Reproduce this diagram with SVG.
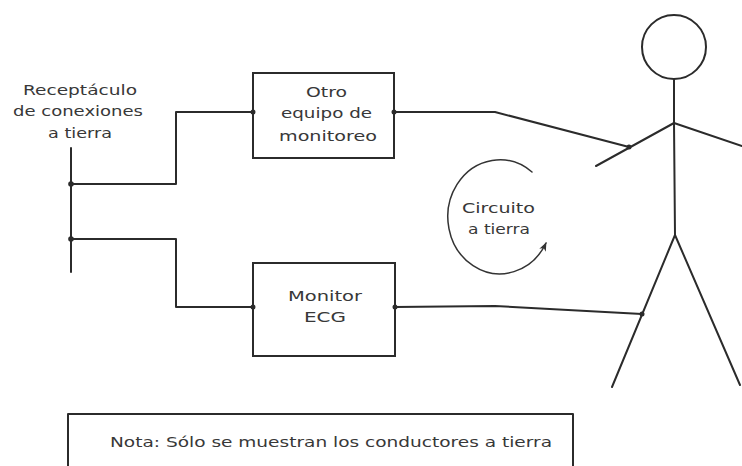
<svg xmlns="http://www.w3.org/2000/svg" width="742" height="466" viewBox="0 0 742 466">
<defs>
<style>
.ln{fill:none;stroke:#2b2b2b;stroke-width:2;stroke-linecap:round;stroke-linejoin:round}
.thin{fill:none;stroke:#333;stroke-width:1.5;stroke-linecap:round}
.box{fill:#fff;stroke:#2b2b2b;stroke-width:2}
.dot{fill:#2b2b2b}
.t{font-family:"DejaVu Sans","Liberation Sans",sans-serif;font-size:14px;fill:#383838}
</style>
<marker id="arr" viewBox="0 0 10 10" refX="9" refY="5" markerWidth="9" markerHeight="9" orient="auto" markerUnits="userSpaceOnUse">
<path d="M0,1 L10,5 L0,9 L3,5 Z" fill="#333"/>
</marker>
</defs>
<rect width="742" height="466" fill="#fff"/>

<g id="receptaculo">
<text class="t" x="23" y="95" textLength="114" lengthAdjust="spacingAndGlyphs">Receptáculo</text>
<text class="t" x="13" y="116" textLength="130" lengthAdjust="spacingAndGlyphs">de conexiones</text>
<text class="t" x="48" y="138" textLength="64" lengthAdjust="spacingAndGlyphs">a tierra</text>
<line class="ln" x1="71" y1="148" x2="71" y2="272"/>
</g>

<g id="connectors">
<polyline class="ln" points="71,184 176,184 176,112 253,112"/>
<polyline class="ln" points="71,239 176,239 176,307 253,307"/>
<polyline class="ln" points="394,112 495,112 629,147"/>
<polyline class="ln" points="395,307 495,306 642,314"/>
<circle class="dot" cx="71" cy="184" r="2.8"/>
<circle class="dot" cx="71" cy="239" r="2.8"/>
</g>

<g id="otro-equipo">
<rect class="box" x="253" y="73" width="141" height="85"/>
<text class="t" x="306" y="97" textLength="41" lengthAdjust="spacingAndGlyphs">Otro</text>
<text class="t" x="281" y="118" textLength="91" lengthAdjust="spacingAndGlyphs">equipo de</text>
<text class="t" x="279" y="141" textLength="98" lengthAdjust="spacingAndGlyphs">monitoreo</text>
</g>
<circle class="dot" cx="253" cy="112" r="2.5"/>
<circle class="dot" cx="394" cy="112" r="2.5"/>

<g id="monitor-ecg">
<rect class="box" x="253" y="263" width="142" height="93"/>
<text class="t" x="288" y="301" textLength="74" lengthAdjust="spacingAndGlyphs">Monitor</text>
<text class="t" x="304" y="322" textLength="42" lengthAdjust="spacingAndGlyphs">ECG</text>
</g>
<circle class="dot" cx="253" cy="307" r="2.5"/>
<circle class="dot" cx="395" cy="307" r="2.5"/>

<g id="circuito">
<path class="thin" d="M532,172 A52,57 0 1 0 546,243" marker-end="url(#arr)"/>
<text class="t" x="462" y="213" textLength="73" lengthAdjust="spacingAndGlyphs">Circuito</text>
<text class="t" x="468" y="234" textLength="62" lengthAdjust="spacingAndGlyphs">a tierra</text>
</g>

<g id="persona">
<circle class="ln" cx="674" cy="47" r="32"/>
<polyline class="ln" points="674,79 674,123 675,235"/>
<line class="ln" x1="674" y1="123" x2="742" y2="146"/>
<line class="ln" x1="674" y1="123" x2="596" y2="166"/>
<line class="ln" x1="675" y1="235" x2="612" y2="387"/>
<line class="ln" x1="675" y1="235" x2="740" y2="385"/>
</g>
<circle class="dot" cx="629" cy="147" r="2.5"/>
<circle class="dot" cx="642" cy="314" r="2.5"/>

<g id="nota">
<path class="ln" d="M68,470 L68,414 L573,414 L573,470"/>
<text class="t" x="110" y="447" textLength="442" lengthAdjust="spacingAndGlyphs">Nota: Sólo se muestran los conductores a tierra</text>
</g>
</svg>
